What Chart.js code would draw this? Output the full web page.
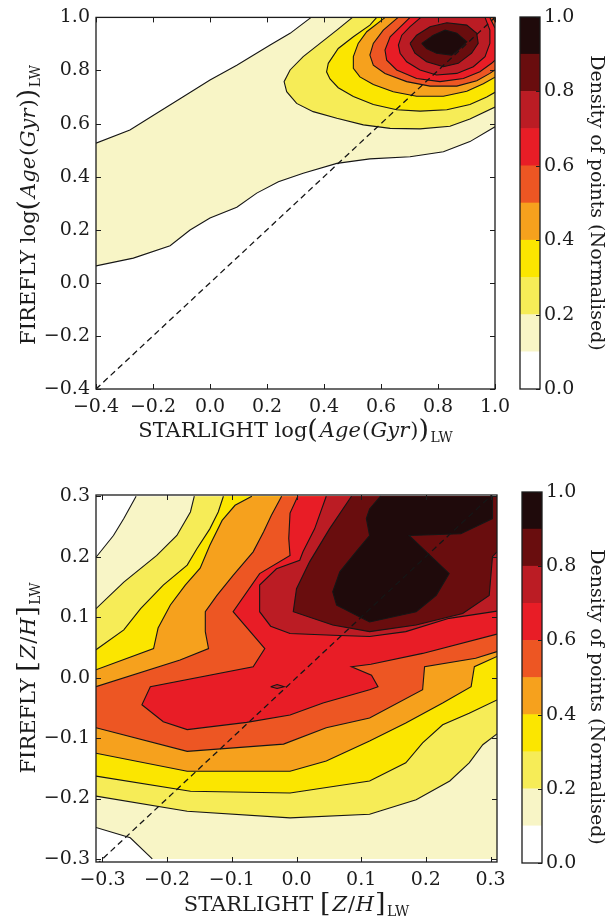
<!DOCTYPE html>
<html>
<head>
<meta charset="utf-8">
<script src="https://cdn.jsdelivr.net/npm/chart.js@4.4.1/dist/chart.umd.min.js"></script>
<style>
  html, body { margin: 0; background: #fff; }
  #wrap { position: relative; width: 616px; height: 917px; overflow: hidden; }
  canvas { position: absolute; }
</style>
</head>
<body>
<div id="wrap">
  <canvas id="age" width="616" height="455" style="left:0px;top:0px"></canvas>
  <canvas id="ageBar" width="111" height="455" style="left:505px;top:0px"></canvas>
  <canvas id="zh" width="616" height="462" style="left:0px;top:455px"></canvas>
  <canvas id="zhBar" width="111" height="462" style="left:505px;top:455px"></canvas>
</div>
<script>
const FONT = '"DejaVu Serif", "Liberation Serif", serif';
const INK = "#1c1c1c";

// colour bands of the density scale (0.0-0.1 ... 0.9-1.0)
const CBAR_BOUNDS = [0, 0.1, 0.2, 0.3, 0.4, 0.5, 0.6, 0.7, 0.8, 0.9, 1.0];
const CBAR_COLORS = ["#ffffff", "#f8f5c6", "#f6ec57", "#fbe600", "#f6a11d",
                     "#ed5623", "#e81d26", "#bb1c24", "#690d0e", "#1f0a0b"];
const CBAR_TICKS = [0, 0.2, 0.4, 0.6, 0.8, 1.0];

const AGE_TICKS = [-0.4, -0.2, 0, 0.2, 0.4, 0.6, 0.8, 1.0];
const ZH_TICKS = [-0.3, -0.2, -0.1, 0, 0.1, 0.2, 0.3];
const AGE_DIAG = [[-0.4, -0.4], [1.0, 1.0]];
const ZH_DIAG = [[-0.31, -0.31], [0.31, 0.31]];

// ---- age panel: filled contour outlines, level >= 0.1 ... >= 0.9
const ageC10 = [[-0.40,0.526],[-0.281,0.576],[-0.187,0.639],[-0.094,0.701],[0.0,0.764],[0.094,0.820],[0.211,0.896],[0.281,0.940],[0.355,1.0],[1.0,1.0],[1.0,0.588],[0.912,0.532],[0.819,0.494],[0.702,0.475],[0.561,0.467],[0.445,0.450],[0.327,0.413],[0.240,0.381],[0.164,0.338],[0.094,0.285],[0.0,0.244],[-0.070,0.199],[-0.140,0.140],[-0.269,0.093],[-0.40,0.064]];
const ageC20 = [[0.50,1.0],[0.445,0.952],[0.386,0.902],[0.327,0.852],[0.281,0.802],[0.260,0.758],[0.269,0.720],[0.304,0.676],[0.362,0.645],[0.445,0.620],[0.538,0.595],[0.632,0.582],[0.737,0.580],[0.842,0.590],[0.912,0.617],[1.0,0.662],[1.0,1.0]];
const ageC30 = [[0.585,1.0],[0.561,0.971],[0.503,0.927],[0.450,0.883],[0.415,0.827],[0.409,0.795],[0.421,0.768],[0.450,0.735],[0.503,0.702],[0.573,0.672],[0.655,0.652],[0.737,0.647],[0.831,0.652],[0.912,0.672],[0.971,0.700],[1.0,0.718],[1.0,1.0]];
const ageC40 = [[0.615,1.0],[0.550,0.946],[0.520,0.902],[0.503,0.852],[0.503,0.808],[0.526,0.776],[0.573,0.747],[0.643,0.720],[0.725,0.703],[0.819,0.703],[0.901,0.722],[0.959,0.750],[1.0,0.775],[1.0,1.0]];
const ageC50 = [[0.66,1.0],[0.608,0.952],[0.573,0.902],[0.561,0.858],[0.573,0.820],[0.614,0.789],[0.690,0.758],[0.772,0.741],[0.866,0.741],[0.936,0.761],[0.982,0.789],[1.0,0.802],[1.0,0.985],[0.993,1.0]];
const ageC60 = [[0.702,1.0],[0.632,0.927],[0.614,0.877],[0.620,0.839],[0.655,0.802],[0.725,0.770],[0.807,0.758],[0.889,0.770],[0.947,0.795],[0.988,0.827],[1.0,0.839],[1.0,0.960],[0.982,1.0]];
const ageC70 = [[0.74,1.0],[0.702,0.965],[0.673,0.933],[0.661,0.896],[0.667,0.865],[0.690,0.833],[0.737,0.802],[0.795,0.783],[0.866,0.789],[0.924,0.814],[0.965,0.852],[0.982,0.902],[0.982,0.952],[0.965,1.0]];
const ageC80 = [[0.702,0.902],[0.725,0.933],[0.772,0.965],[0.831,0.980],[0.901,0.971],[0.936,0.940],[0.941,0.902],[0.918,0.865],[0.871,0.827],[0.819,0.814],[0.760,0.833],[0.719,0.865],[0.702,0.902]];
const ageC90 = [[0.743,0.902],[0.784,0.933],[0.825,0.952],[0.866,0.940],[0.901,0.908],[0.871,0.877],[0.848,0.858],[0.795,0.865],[0.760,0.883],[0.743,0.902]];

// ---- metallicity panel
const zhC10 = [[-0.31,0.199],[-0.283,0.235],[-0.267,0.263],[-0.248,0.30],[0.31,0.30],[0.31,-0.30],[-0.223,-0.30],[-0.257,-0.265],[-0.31,-0.248]];
const zhC20 = [[-0.31,0.114],[-0.267,0.158],[-0.216,0.202],[-0.185,0.235],[-0.164,0.274],[-0.158,0.30],[0.31,0.30],[0.31,-0.093],[0.288,-0.111],[0.267,-0.141],[0.237,-0.171],[0.185,-0.202],[0.113,-0.226],[-0.010,-0.232],[-0.169,-0.221],[-0.31,-0.196]];
const zhC30 = [[-0.31,0.046],[-0.267,0.079],[-0.241,0.114],[-0.206,0.153],[-0.169,0.186],[-0.154,0.213],[-0.134,0.246],[-0.121,0.274],[-0.113,0.30],[0.31,0.30],[0.31,-0.037],[0.267,-0.059],[0.226,-0.078],[0.195,-0.108],[0.169,-0.141],[0.113,-0.171],[-0.010,-0.191],[-0.164,-0.188],[-0.31,-0.163]];
const zhC40 = [[-0.31,0.013],[-0.221,0.048],[-0.214,0.082],[-0.195,0.120],[-0.172,0.153],[-0.149,0.181],[-0.134,0.219],[-0.115,0.260],[-0.095,0.285],[-0.069,0.30],[0.31,0.30],[0.31,0.035],[0.275,0.018],[0.270,-0.015],[0.226,-0.042],[0.169,-0.075],[0.113,-0.105],[0.046,-0.138],[-0.010,-0.155],[-0.169,-0.155],[-0.31,-0.125]];
const zhC50 = [[-0.31,-0.015],[-0.180,0.029],[-0.136,0.048],[-0.141,0.076],[-0.141,0.109],[-0.123,0.136],[-0.098,0.169],[-0.067,0.208],[-0.051,0.241],[-0.039,0.268],[-0.023,0.30],[0.31,0.30],[0.31,0.043],[0.277,0.032],[0.198,0.018],[0.195,-0.020],[0.113,-0.067],[0.046,-0.083],[-0.020,-0.110],[-0.169,-0.122],[-0.31,-0.083]];
const zhC60 = [[0.002,0.30],[-0.010,0.272],[-0.012,0.230],[-0.010,0.202],[-0.057,0.172],[-0.098,0.109],[-0.049,0.048],[-0.067,0.018],[-0.226,-0.015],[-0.239,-0.045],[-0.206,-0.073],[-0.169,-0.086],[-0.077,-0.074],[-0.010,-0.062],[0.041,-0.042],[0.113,-0.020],[0.126,-0.015],[0.116,0.004],[0.085,0.018],[0.115,0.022],[0.195,0.040],[0.31,0.072],[0.31,0.30]];
const zhC70 = [[0.046,0.30],[0.028,0.246],[0.010,0.208],[0.005,0.194],[-0.031,0.180],[-0.057,0.153],[-0.057,0.109],[-0.040,0.085],[-0.010,0.073],[0.056,0.070],[0.113,0.068],[0.169,0.076],[0.236,0.098],[0.31,0.110],[0.31,0.30]];
const zhC70b = [[-0.040,-0.015],[-0.030,-0.0115],[-0.019,-0.015],[-0.030,-0.018],[-0.040,-0.015]];
const zhC80 = [[0.085,0.30],[0.051,0.246],[0.020,0.191],[0.0,0.147],[-0.005,0.109],[0.056,0.087],[0.113,0.076],[0.185,0.087],[0.257,0.106],[0.298,0.136],[0.303,0.200],[0.31,0.208],[0.31,0.30]];
const zhC90 = [[0.130,0.30],[0.113,0.279],[0.108,0.263],[0.113,0.235],[0.092,0.208],[0.067,0.175],[0.056,0.142],[0.062,0.120],[0.113,0.092],[0.185,0.109],[0.216,0.136],[0.236,0.172],[0.174,0.235],[0.254,0.238],[0.303,0.263],[0.303,0.30]];

const AGE_CONTOURS = [[0.1, ageC10], [0.2, ageC20], [0.3, ageC30], [0.4, ageC40], [0.5, ageC50],
                      [0.6, ageC60], [0.7, ageC70], [0.8, ageC80], [0.9, ageC90]];
const ZH_CONTOURS = [[0.1, zhC10], [0.2, zhC20], [0.3, zhC30], [0.4, zhC40], [0.5, zhC50],
                     [0.6, zhC60], [0.7, zhC70], [0.7, zhC70b], [0.8, zhC80], [0.9, zhC90]];

// axis titles: [text, style]  n = upright, i = italic, big = tall bracket, sub = subscript
const AGE_X_TITLE = [["STARLIGHT log", "n"], ["(", "big"], ["Age", "i"], ["(", "n"], ["Gyr", "i"], [")", "n"], [")", "big"], ["LW", "sub"]];
const AGE_Y_TITLE = [["FIREFLY log", "n"], ["(", "big"], ["Age", "i"], ["(", "n"], ["Gyr", "i"], [")", "n"], [")", "big"], ["LW", "sub"]];
const ZH_X_TITLE = [["STARLIGHT ", "n"], ["[", "big"], ["Z", "i"], ["/", "n"], ["H", "i"], ["]", "big"], ["LW", "sub"]];
const ZH_Y_TITLE = [["FIREFLY ", "n"], ["[", "big"], ["Z", "i"], ["/", "n"], ["H", "i"], ["]", "big"], ["LW", "sub"]];
const CBAR_TITLE = "Density of points (Normalised)";

const fmt = v => (Math.abs(v) < 1e-9 ? 0 : v).toFixed(1).replace("-", "\u2212");

function onEdge(a, b, ext) {
  if (a[0] === b[0] && (a[0] <= ext.x0 || a[0] >= ext.x1)) return true;
  if (a[1] === b[1] && (a[1] <= ext.y0 || a[1] >= ext.y1)) return true;
  return false;
}

function contourSets(contours, ext) {
  const sets = [];
  contours.forEach(([lvl, pts], i) => {
    sets.push({
      data: pts.map(([x, y]) => ({ x, y })),
      showLine: true, fill: "shape", backgroundColor: CBAR_COLORS[Math.round(lvl * 10)],
      borderWidth: 0, pointRadius: 0, order: 100 - i,
    });
    // outline without the stretches that run along the frame
    const line = [];
    pts.forEach((p, j) => {
      if (j > 0 && onEdge(pts[j - 1], p, ext)) line.push({ x: null, y: null });
      line.push({ x: p[0], y: p[1] });
    });
    sets.push({
      data: line, showLine: true, fill: false, spanGaps: false,
      borderColor: "#161616", borderWidth: 1.1, pointRadius: 0, order: 10,
    });
  });
  return sets;
}

function drawRich(ctx, parts, cx, cy, rot, size) {
  const fontOf = s => s === "i" ? `italic ${size}px ${FONT}` :
    s === "big" ? `${size * 1.28}px ${FONT}` :
    s === "sub" ? `${size * 0.66}px ${FONT}` : `${size}px ${FONT}`;
  const gap = s => (s === "i" || s === "big") ? 1.5 : 0;
  ctx.save();
  ctx.translate(cx, cy);
  ctx.rotate(rot);
  let w = 0;
  parts.forEach(([t, s]) => { ctx.font = fontOf(s); w += ctx.measureText(t).width + gap(s); });
  let x = -w / 2;
  const base = size * 0.36;
  ctx.fillStyle = INK;
  ctx.textBaseline = "alphabetic";
  ctx.textAlign = "left";
  parts.forEach(([t, s]) => {
    ctx.font = fontOf(s);
    const dy = s === "sub" ? size * 0.26 : s === "big" ? size * 0.08 : 0;
    ctx.fillText(t, x + (s === "i" ? 0.5 : 0), base + dy);
    x += ctx.measureText(t).width + gap(s);
  });
  ctx.restore();
}

const framePlugin = {
  id: "frame",
  afterDatasetsDraw(chart, args, opts) {
    const { ctx, chartArea: a } = chart;
    const L = opts.tickLen || 5;
    ctx.save();
    ctx.strokeStyle = INK;
    ctx.lineWidth = 1;
    ctx.beginPath();
    const xs = chart.scales.x, ys = chart.scales.y;
    if (opts.xTicks !== false) {
      xs.ticks.forEach(t => {
        const px = Math.round(xs.getPixelForValue(t.value)) + 0.5;
        ctx.moveTo(px, a.bottom); ctx.lineTo(px, a.bottom - L);
        ctx.moveTo(px, a.top); ctx.lineTo(px, a.top + L);
      });
    }
    ys.ticks.forEach(t => {
      const py = Math.round(ys.getPixelForValue(t.value)) + 0.5;
      if (opts.leftTicks !== false) { ctx.moveTo(a.left, py); ctx.lineTo(a.left + L, py); }
      ctx.moveTo(a.right, py); ctx.lineTo(a.right - L, py);
    });
    ctx.stroke();
    ctx.lineWidth = 1.3;
    ctx.strokeRect(a.left, a.top, a.right - a.left, a.bottom - a.top);
    if (opts.xTitle) drawRich(ctx, opts.xTitle, (a.left + a.right) / 2, opts.xTitleY, 0, 21);
    if (opts.yTitle) drawRich(ctx, opts.yTitle, opts.yTitleX, opts.yTitleCY, -Math.PI / 2, 21);
    if (opts.barTitle) {
      ctx.translate(opts.barTitleX, opts.barTitleY);
      ctx.rotate(Math.PI / 2);
      ctx.font = `19px ${FONT}`;
      ctx.fillStyle = INK;
      ctx.textAlign = "center";
      ctx.textBaseline = "middle";
      ctx.fillText(opts.barTitle, 0, 0);
    }
    ctx.restore();
  },
};

const tickFont = { family: FONT, size: 19 };

function panel(id, contours, ext, diag, ticks, box, titles) {
  const datasets = contourSets(contours, ext);
  datasets.push({
    data: diag.map(([x, y]) => ({ x, y })), showLine: true, fill: false,
    borderColor: "#161616", borderWidth: 1.3, borderDash: [6, 4], pointRadius: 0, order: 0,
  });
  return new Chart(document.getElementById(id), {
    type: "scatter",
    data: { datasets },
    options: {
      responsive: false, animation: false, events: [], devicePixelRatio: 1,
      layout: { padding: { left: 0, top: box.top, right: box.right, bottom: 0 } },
      plugins: { legend: { display: false }, tooltip: { enabled: false }, frame: titles },
      elements: { line: { tension: 0 } },
      scales: {
        x: {
          type: "linear", min: box.xmin, max: box.xmax,
          grid: { display: false, drawTicks: false }, border: { display: false },
          ticks: { font: tickFont, color: INK, padding: 7, maxRotation: 0, callback: fmt },
          afterBuildTicks: s => { s.ticks = ticks.map(v => ({ value: v })); },
          afterFit: s => { s.height = box.xh; },
        },
        y: {
          type: "linear", min: box.ymin, max: box.ymax,
          grid: { display: false, drawTicks: false }, border: { display: false },
          ticks: { font: tickFont, color: INK, padding: 6, callback: fmt },
          afterBuildTicks: s => { s.ticks = ticks.map(v => ({ value: v })); },
          afterFit: s => { s.width = 96; },
        },
      },
    },
    plugins: [framePlugin],
  });
}

function colorbar(id, box, titleY) {
  return new Chart(document.getElementById(id), {
    type: "bar",
    data: {
      labels: ["d"],
      datasets: CBAR_COLORS.map((c, i) => ({
        data: [[CBAR_BOUNDS[i], CBAR_BOUNDS[i + 1]]], backgroundColor: c, borderWidth: 0,
        grouped: false, barPercentage: 1, categoryPercentage: 1,
      })),
    },
    options: {
      responsive: false, animation: false, events: [], devicePixelRatio: 1,
      layout: { padding: { left: box.left, top: box.top, bottom: box.bottom, right: 0 } },
      plugins: {
        legend: { display: false }, tooltip: { enabled: false },
        frame: { xTicks: false, leftTicks: false, tickLen: 4, barTitle: CBAR_TITLE, barTitleX: 91, barTitleY: titleY },
      },
      scales: {
        x: { display: false },
        y: {
          position: "right", min: 0, max: 1,
          grid: { display: false, drawTicks: false }, border: { display: false },
          ticks: { font: tickFont, color: INK, padding: 4, callback: fmt },
          afterBuildTicks: s => { s.ticks = CBAR_TICKS.map(v => ({ value: v })); },
          afterFit: s => { s.width = box.w; },
        },
      },
    },
    plugins: [framePlugin],
  });
}

panel("age", AGE_CONTOURS, { x0: -0.4, x1: 1.0, y0: -0.4, y1: 1.0 }, AGE_DIAG, AGE_TICKS,
  { top: 17, right: 121, xh: 66, xmin: -0.4, xmax: 1.0, ymin: -0.4, ymax: 1.0 },
  { xTitle: AGE_X_TITLE, xTitleY: 429, yTitle: AGE_Y_TITLE, yTitleX: 27, yTitleCY: 205 });

panel("zh", ZH_CONTOURS, { x0: -0.31, x1: 0.31, y0: -0.30, y1: 0.30 }, ZH_DIAG, ZH_TICKS,
  { top: 40, right: 119, xh: 55, xmin: -0.31, xmax: 0.31, ymin: -0.305, ymax: 0.302 },
  { xTitle: ZH_X_TITLE, xTitleY: 448, yTitle: ZH_Y_TITLE, yTitleX: 27, yTitleCY: 223 });

colorbar("ageBar", { left: 15, top: 17, bottom: 66, w: 76 }, 203);
colorbar("zhBar", { left: 17, top: 37, bottom: 54, w: 74 }, 242);
</script>
</body>
</html>
